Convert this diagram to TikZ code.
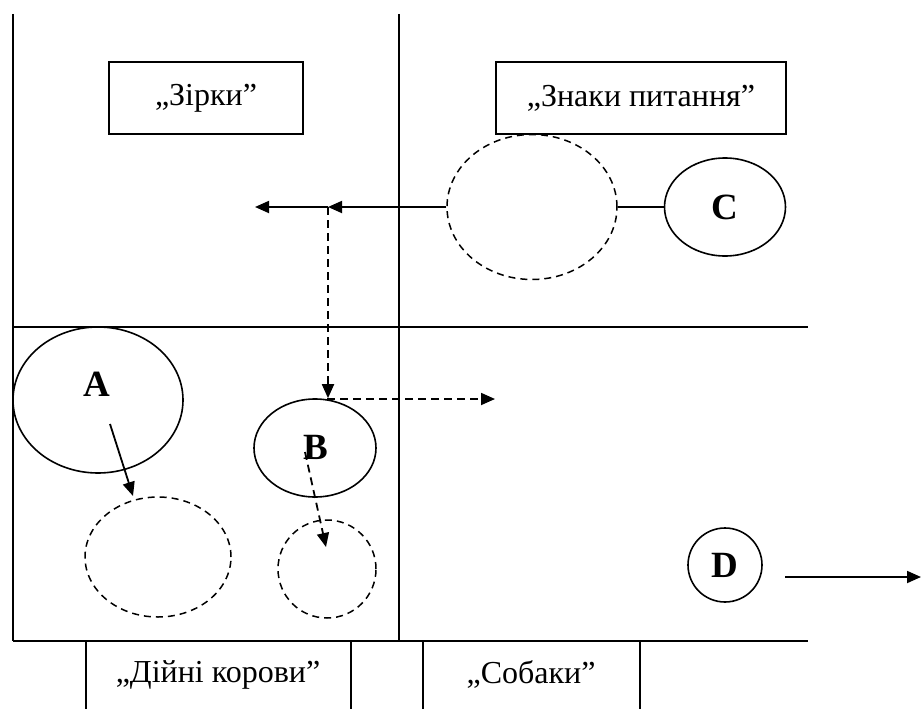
\documentclass[tikz,border=0pt]{standalone}
\usepackage{fontspec}
\setmainfont{Liberation Serif}
\usetikzlibrary{shapes.geometric,arrows.meta}
\begin{document}
\begin{tikzpicture}[x=1pt,y=-1pt,
  ln/.style={line width=1.8pt},
  dsh/.style={line width=1.8pt,dash pattern=on 8pt off 5pt},
  ell/.style={ellipse,draw,line width=1.6pt,inner sep=0pt},
  dell/.style={ellipse,draw,line width=1.5pt,dash pattern=on 7pt off 5pt,inner sep=0pt},
  arr/.style={ln,-{Triangle[length=14pt,width=12pt]}},
  darr/.style={dsh,-{Triangle[length=14pt,width=12pt]}},
  lab/.style={font=\fontsize{32}{34}\selectfont},
  blab/.style={font=\bfseries\fontsize{37}{38}\selectfont},
  boxn/.style={draw,line width=1.8pt,inner sep=0pt}]
\useasboundingbox (0,0) rectangle (921,709);
% grid lines
\coordinate (tl) at (13,14);
\coordinate (bl) at (13,641);
\coordinate (tm) at (399,14);
\coordinate (bm) at (399,641);
\coordinate (ml) at (13,327);
\coordinate (mr) at (808,327);
\coordinate (br) at (808,641);
\draw[ln] (tl) -- (bl);
\draw[ln] (tm) -- (bm);
\draw[ln] (ml) -- (mr);
\draw[ln] (bl) -- (br);
% top boxes
\node[boxn,minimum width=194pt,minimum height=72pt] (zirky) at (206,98) {};
\node[lab] (zirkyT) at (206,98) {„Зірки”};
\node[boxn,minimum width=290pt,minimum height=72pt] (znaky) at (641,98) {};
\node[lab] (znakyT) at (641,98) {„Знаки питання”};
% bottom boxes
\coordinate (k1t) at (86,641); \coordinate (k1b) at (86,709);
\coordinate (k2t) at (351,641); \coordinate (k2b) at (351,709);
\coordinate (s1t) at (423,641); \coordinate (s1b) at (423,709);
\coordinate (s2t) at (640,641); \coordinate (s2b) at (640,709);
\draw[ln] (k1t) -- (k1b);
\draw[ln] (k2t) -- (k2b);
\draw[ln] (s1t) -- (s1b);
\draw[ln] (s2t) -- (s2b);
\node[lab] (korovy) at (218,675) {„Дійні корови”};
\node[lab] (sobaky) at (531,675) {„Собаки”};
% top right
\node[dell,minimum width=170pt,minimum height=145pt] (e1) at (532,207) {};
\node[ell,minimum width=121pt,minimum height=98pt] (C) at (725,207) {};
\node[blab] (Ct) at (725,207) {C};
\draw[ln] (e1.east) -- (C.west);
\coordinate (j) at (328,207);
\coordinate (leftend) at (255,207);
\draw[arr] (e1.west) -- (j);
\draw[arr] (j) -- (leftend);
% bottom left
\node[ell,minimum width=170pt,minimum height=146pt] (A) at (98,400) {};
\node[blab] (At) at (97,384) {A};
\node[dell,minimum width=146pt,minimum height=120pt] (e2) at (158,557) {};
\node[ell,minimum width=122pt,minimum height=98pt] (B) at (315,448) {};
\node[blab] (Bt) at (316,447) {B};
\node[dell,minimum width=98pt,minimum height=98pt] (e3) at (327,569) {};
\draw[darr] (j) -- (j |- B.north);
\coordinate (k) at (327,399);
\coordinate (rend) at (495,399);
\draw[darr] (k) -- (rend);
\coordinate (a1) at (110,424);
\coordinate (a2) at (133,496);
\draw[arr] (a1) -- (a2);
\coordinate (b1) at (305,452);
\coordinate (b2) at (326,547);
\draw[darr] (b1) -- (b2);
% D
\node[draw,circle,line width=1.6pt,minimum size=74pt,inner sep=0pt] (D) at (725,565) {};
\node[blab] (Dt) at (725,565) {D};
\coordinate (d1) at (785,577);
\coordinate (d2) at (921,577);
\draw[arr] (d1) -- (d2);
\end{tikzpicture}
\end{document}
